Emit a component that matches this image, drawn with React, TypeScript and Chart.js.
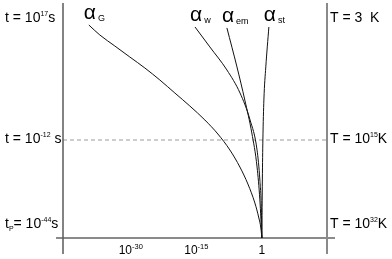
import React, { useEffect, useRef } from "react";
import { Chart, registerables } from "chart.js";

Chart.register(...registerables);

// x: log10 of coupling strength (1 = 10^0), y: schematic cosmic-epoch position (0 = bottom/Planck end)
const couplingTickValues = [-30, -15, 0];
const couplingTickBases = ["10", "10", "1"];
const couplingTickExps = ["-30", "-15", ""];

const epochTickValues = [93, 41.7, 5.5];
const dashedEpoch = 41.7;

type Part = [string, "n" | "sup" | "sub"];

const timeLabels: Part[][] = [
  [["t = 10", "n"], ["17", "sup"], ["s", "n"]],
  [["t = 10", "n"], ["-12", "sup"], [" s", "n"]],
  [["t", "n"], ["P", "sub"], ["= 10", "n"], ["-44", "sup"], ["s", "n"]],
];

const tempLabels: Part[][] = [
  [["T = 3  K", "n"]],
  [["T = 10", "n"], ["15", "sup"], ["K", "n"]],
  [["T = 10", "n"], ["32", "sup"], ["K", "n"]],
];

const seriesSubs = ["G", "w", "em", "st"];

const alphaG_log = [-39.59, -37.07, -33.64, -30.21, -26.77, -23.34, -19.91, -16.48, -13.04, -10.07, -7.32, -5.03, -3.2, -1.6, -0.69, -0.23, 0];
const alphaG_epoch = [90.64, 86.38, 81.7, 77.02, 72.34, 67.23, 61.7, 56.17, 50.21, 44.26, 37.45, 30.21, 22.98, 14.89, 8.51, 4.26, 0];

const alphaW_log = [-15.3, -11.9, -8.0, -5.0, -2.7, -1.1, -0.46, -0.11, 0];
const alphaW_epoch = [89.8, 81.3, 71.5, 61.7, 50.2, 37.4, 24.7, 11.9, 0];

const alphaEm_log = [-8.0, -5.7, -3.9, -2.3, -1.1, -0.46, 0];
const alphaEm_epoch = [89.4, 72.8, 58.7, 44.7, 30.2, 16.2, 0];

const alphaSt_log = [1.6, 0.9, 0.46, 0.23, 0.11, 0];
const alphaSt_epoch = [89.8, 72.8, 58.7, 41.7, 24.7, 0];

const seriesX = [alphaG_log, alphaW_log, alphaEm_log, alphaSt_log];
const seriesY = [alphaG_epoch, alphaW_epoch, alphaEm_epoch, alphaSt_epoch];

const FONT = "'Liberation Sans', Arial, sans-serif";

function drawRich(
  ctx: CanvasRenderingContext2D,
  parts: Part[],
  x: number,
  baseline: number,
  base: number,
  small: number,
  align: "left" | "center"
) {
  ctx.textAlign = "left";
  ctx.textBaseline = "alphabetic";
  let total = 0;
  for (const [t, k] of parts) {
    ctx.font = `${k === "n" ? base : small}px ${FONT}`;
    total += ctx.measureText(t).width;
  }
  let cx = align === "center" ? x - total / 2 : x;
  for (const [t, k] of parts) {
    ctx.font = `${k === "n" ? base : small}px ${FONT}`;
    const dy = k === "sup" ? -base * 0.42 : k === "sub" ? base * 0.25 : 0;
    ctx.fillText(t, cx, baseline + dy);
    cx += ctx.measureText(t).width;
  }
}

const framePlugin = {
  id: "frame",
  beforeDatasetsDraw(chart: any) {
    const { ctx, chartArea, scales } = chart;
    const { left, right, top, bottom } = chartArea;
    ctx.save();
    const yd = scales.y.getPixelForValue(dashedEpoch);
    ctx.strokeStyle = "#9a9a9a";
    ctx.lineWidth = 1;
    ctx.setLineDash([4, 3]);
    ctx.beginPath();
    ctx.moveTo(left, yd);
    ctx.lineTo(right, yd);
    ctx.stroke();
    ctx.setLineDash([]);
    ctx.strokeStyle = "#8a8a8a";
    ctx.lineWidth = 2;
    ctx.beginPath();
    ctx.moveTo(left - 7, bottom);
    ctx.lineTo(right + 8, bottom);
    ctx.stroke();
    ctx.strokeStyle = "#5a5a5a";
    ctx.lineWidth = 1.5;
    ctx.beginPath();
    ctx.moveTo(left, top);
    ctx.lineTo(left, bottom + 16);
    ctx.stroke();
    ctx.strokeStyle = "#8a8a8a";
    ctx.lineWidth = 2;
    ctx.beginPath();
    ctx.moveTo(right, top);
    ctx.lineTo(right, bottom + 16);
    ctx.stroke();
    ctx.restore();
  },
  afterDatasetsDraw(chart: any) {
    const { ctx, chartArea, scales } = chart;
    ctx.save();
    ctx.fillStyle = "#000";
    couplingTickValues.forEach((v, i) => {
      const px = scales.x.getPixelForValue(v);
      const parts: Part[] = [[couplingTickBases[i], "n"]];
      if (couplingTickExps[i]) parts.push([couplingTickExps[i], "sup"]);
      drawRich(ctx, parts, px, chartArea.bottom + 16, 12, 7.5, "center");
    });
    epochTickValues.forEach((v, i) => {
      const py = scales.y.getPixelForValue(v) + 2.5;
      drawRich(ctx, timeLabels[i], 5, py, 14, 7, "left");
      drawRich(ctx, tempLabels[i], chartArea.right + 3, py, 14, 7, "left");
    });
    seriesSubs.forEach((s, i) => {
      const px = scales.x.getPixelForValue(seriesX[i][0]) - 5;
      const py = scales.y.getPixelForValue(seriesY[i][0]) - 6;
      ctx.font = `21px ${FONT}`;
      ctx.textAlign = "left";
      ctx.textBaseline = "alphabetic";
      ctx.fillText("\u03b1", px, py);
      const w = ctx.measureText("\u03b1").width;
      ctx.font = `9px ${FONT}`;
      ctx.fillText(s, px + w + 2, py + 2);
    });
    ctx.restore();
  },
};

export default function App() {
  const ref = useRef<HTMLCanvasElement>(null);
  useEffect(() => {
    if (!ref.current) return;
    const chart = new Chart(ref.current, {
      type: "scatter",
      data: {
        datasets: seriesSubs.map((s, i) => ({
          label: "\u03b1 " + s,
          data: seriesX[i].map((x, j) => ({ x, y: seriesY[i][j] })),
          showLine: true,
          borderColor: "#111",
          borderWidth: 1,
          pointRadius: 0,
          cubicInterpolationMode: "monotone",
          fill: false,
        })),
      },
      options: {
        animation: false,
        responsive: false,
        events: [],
        layout: { padding: { left: 63, right: 65, top: 3, bottom: 21 } },
        plugins: { legend: { display: false }, tooltip: { enabled: false } },
        scales: {
          x: { type: "linear", min: -45.5, max: 14.9, display: false },
          y: { type: "linear", min: 0, max: 100, display: false },
        },
      },
      plugins: [framePlugin],
    });
    return () => chart.destroy();
  }, []);
  return (
    <div style={{ position: "fixed", left: 0, top: 0, width: 392, height: 259, background: "#fff" }}>
      <canvas ref={ref} width={392} height={259} style={{ display: "block" }} />
    </div>
  );
}
